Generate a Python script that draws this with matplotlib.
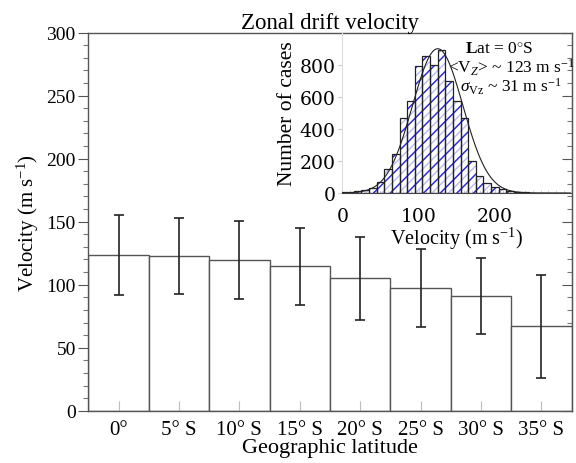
# Zonal drift velocity by latitude, with inset histogram for 0 deg S
import numpy as np
import matplotlib
matplotlib.use('Agg')
import matplotlib.pyplot as plt
from matplotlib.ticker import MultipleLocator

plt.rcParams['font.family'] = ['Liberation Serif', 'DejaVu Serif']
plt.rcParams['mathtext.fontset'] = 'custom'
plt.rcParams['mathtext.rm'] = 'Liberation Serif'
plt.rcParams['mathtext.it'] = 'Liberation Serif:italic'
plt.rcParams['mathtext.bf'] = 'Liberation Serif:bold'

# Main bars
latitudes = ['0°', '5° S', '10° S', '15° S', '20° S', '25° S', '30° S', '35° S']
velocity = [123.5, 122.8, 119.5, 114.5, 105, 97.5, 91, 67]
velocity_err = [32, 30, 31, 30.5, 33, 31, 30.5, 41]

# Inset histogram (0 deg S), bin centres in m/s
bin_centres = list(range(0, 300, 10))
counts = [5, 9, 13, 20, 30, 66, 148, 244, 466, 574,
          794, 855, 800, 890, 700, 575, 465, 200, 105, 65,
          40, 25, 12, 8, 5, 3, 2, 2, 1, 1]

# Gaussian fit shown over the histogram
fit_mean, fit_sigma, fit_peak = 125, 33, 900

fig = plt.figure(figsize=(5.76, 4.64), dpi=100)
ax = fig.add_axes([0.1533, 0.1127, 0.8392, 0.8147])

x = np.arange(len(latitudes))
ax.bar(x, velocity, width=1.0, facecolor='white', edgecolor='#555555', linewidth=1.0, zorder=1)
ax.errorbar(x, velocity, yerr=velocity_err, fmt='none', ecolor='#222222',
            elinewidth=1.2, capsize=3.3, capthick=1.2, zorder=2)

ax.set_xlim(-0.5, len(latitudes) - 0.5)
ax.set_ylim(0, 300)
ax.set_xticks(x)
ax.set_xticklabels(latitudes, fontsize=15)
ax.yaxis.set_major_locator(MultipleLocator(50))
ax.yaxis.set_minor_locator(MultipleLocator(10))
ax.tick_params(axis='y', which='major', direction='out', length=7, width=0.8, color='#555555',
               labelsize=14, pad=2)
ax.tick_params(axis='y', which='minor', direction='out', length=3.5, width=0.8, color='#777777')
ax.tick_params(axis='x', which='major', direction='in', length=7, width=0.8, color='#bbbbbb',
               labelsize=15, pad=7)
for s in ax.spines.values():
    s.set_color('#555555')
    s.set_linewidth(1.0)

# mirrored right axis with inward ticks
sec = ax.secondary_yaxis('right')
sec.yaxis.set_major_locator(MultipleLocator(50))
sec.yaxis.set_minor_locator(MultipleLocator(10))
sec.tick_params(which='major', direction='in', length=7, width=0.8, color='#555555', labelright=False)
sec.tick_params(which='minor', direction='in', length=3.5, width=0.8, color='#777777')
sec.spines['right'].set_color('#555555')

ax.set_ylabel('Velocity (m s$^{-1}$)', fontsize=15, labelpad=4)
ax.set_xlabel('Geographic latitude', fontsize=16, labelpad=-1)
ax.set_title('Zonal drift velocity', fontsize=16.5, pad=3)

# Inset histogram
ins = fig.add_axes([0.5943, 0.5819, 0.3974, 0.3455])
ins.patch.set_alpha(0)
ins.bar(bin_centres, counts, width=10, facecolor='none', edgecolor='#b8bcf2', hatch='////',
        linewidth=0, zorder=1)
ins.bar(bin_centres, counts, width=10, facecolor='none', edgecolor='#2b2bd9', hatch='//',
        linewidth=0, zorder=2)
ins.bar(bin_centres, counts, width=10, fill=False, edgecolor='#222222', linewidth=0.9, zorder=3)

v = np.linspace(0, 300, 400)
ins.plot(v, fit_peak * np.exp(-(v - fit_mean) ** 2 / (2 * fit_sigma ** 2)),
         color='#222222', lw=0.8, zorder=4)

ins.set_xlim(0, 300)
ins.set_ylim(0, 1000)
ins.set_xticks([0, 100, 200])
ins.set_yticks([0, 200, 400, 600, 800])
ins.xaxis.set_minor_locator(MultipleLocator(10))
ins.tick_params(axis='both', labelsize=13.5, length=3, color='#cccccc', pad=2)
ins.tick_params(axis='x', which='both', direction='in', pad=10)
ins.tick_params(axis='x', which='minor', length=2, color='#cccccc')
for lab in ins.get_xticklabels() + ins.get_yticklabels():
    lab.set_family('DejaVu Serif')
for side in ['top', 'right']:
    ins.spines[side].set_visible(False)
ins.spines['left'].set_color('#dddddd')
ins.spines['bottom'].set_color('#444444')
ins.spines['bottom'].set_linewidth(0.8)
ins.set_ylabel('Number of cases', fontsize=15.5, labelpad=2)
ins.set_xlabel('Velocity (m s$^{-1}$)', fontsize=14.5, labelpad=0)

note = '\n'.join([r'$\mathbf{L}$at = 0$^{\circ}$S      ',
                  r'<V$_Z$> ~ 123 m s$^{-1}$',
                  r'$\sigma_{\mathrm{Vz}}$ ~ 31 m s$^{-1}$'])
ins.text(0.737, 0.774, note, transform=ins.transAxes, ha='center', va='center',
         multialignment='center', fontsize=12.5, linespacing=0.95)

fig.savefig('out.png', dpi=100)
